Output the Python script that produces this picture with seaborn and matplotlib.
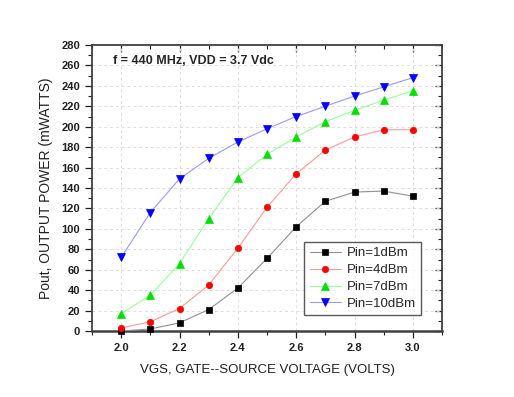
import matplotlib
matplotlib.use("Agg")
import matplotlib.pyplot as plt
import seaborn as sns
import pandas as pd
from matplotlib.ticker import MultipleLocator

vgs = [2.0, 2.1, 2.2, 2.3, 2.4, 2.5, 2.6, 2.7, 2.8, 2.9, 3.0]
pin_1dbm = [0, 2, 8, 21, 42, 71, 102, 127, 136, 137, 132]
pin_4dbm = [3, 9, 22, 45, 81, 121, 154, 177, 190, 197, 197]
pin_7dbm = [17, 35, 66, 110, 150, 173, 190, 205, 216, 226, 235]
pin_10dbm = [72, 116, 149, 169, 185, 198, 210, 220, 230, 239, 248]
series_names = ["Pin=1dBm", "Pin=4dBm", "Pin=7dBm", "Pin=10dBm"]

title_text = "f = 440 MHz, VDD = 3.7 Vdc"
xlabel = "VGS, GATE--SOURCE VOLTAGE (VOLTS)"
ylabel = "Pout, OUTPUT POWER (mWATTS)"

sns.set_style("white")
plt.rcParams['font.family'] = ['Liberation Sans', 'DejaVu Sans']

fig = plt.figure(figsize=(5.14, 3.97), dpi=100)
ax = fig.add_axes([92/514, 1-331/397, 350/514, (331-45)/397])

styles = [
    dict(marker='s', line='#909090', mk='black', ms=4.2),
    dict(marker='o', line='#ff9999', mk='#ff0000', ms=4.6),
    dict(marker='^', line='#99ff99', mk='#00e000', ms=5.2),
    dict(marker='v', line='#9999ff', mk='#0000ff', ms=5.2),
]
data = [pin_1dbm, pin_4dbm, pin_7dbm, pin_10dbm]
for name, vals, st in zip(series_names, data, styles):
    df = pd.DataFrame({"VGS": vgs, "Pout": vals})
    sns.lineplot(data=df, x="VGS", y="Pout", ax=ax, color=st['line'], lw=0.8,
                 marker=st['marker'], markersize=st['ms'], markeredgewidth=0.5,
                 markerfacecolor=st['mk'], markeredgecolor=st['mk'],
                 label=name, clip_on=False, zorder=3)

ax.set_xlim(1.9, 3.1)
ax.set_ylim(0, 280)
ax.xaxis.set_major_locator(MultipleLocator(0.2))
ax.xaxis.set_minor_locator(MultipleLocator(0.1))
ax.yaxis.set_major_locator(MultipleLocator(20))
ax.yaxis.set_minor_locator(MultipleLocator(10))
ax.set_xticks([2.0, 2.2, 2.4, 2.6, 2.8, 3.0])
ax.set_xticklabels(["2.0", "2.2", "2.4", "2.6", "2.8", "3.0"])

ax.grid(True, which='major', ls=(0, (3, 3)), color='#dddddd', lw=0.7)
ax.set_axisbelow(True)

for s in ax.spines.values():
    s.set_color('#404040')
    s.set_linewidth(1.3)
ax.spines['bottom'].set_linewidth(1.8)

ax.tick_params(which='both', direction='out', bottom=True, left=True,
               colors='#202020', labelsize=8)
ax.tick_params(which='major', length=5, width=0.9)
ax.tick_params(which='minor', length=3, width=0.8)
ax2 = ax.secondary_xaxis('top')
ax2.set_xticks([2.0, 2.2, 2.4, 2.6, 2.8, 3.0])
ax2.xaxis.set_minor_locator(MultipleLocator(0.1))
ax2.tick_params(which='both', direction='in', labeltop=False, colors='#202020')
ax2.tick_params(which='major', length=5, width=0.9)
ax2.tick_params(which='minor', length=3, width=0.8)
ax3 = ax.secondary_yaxis('right')
ax3.yaxis.set_major_locator(MultipleLocator(20))
ax3.yaxis.set_minor_locator(MultipleLocator(10))
ax3.tick_params(which='both', direction='in', labelright=False, colors='#202020')
ax3.tick_params(which='major', length=5, width=0.9)
ax3.tick_params(which='minor', length=3, width=0.8)
for a in (ax2, ax3):
    for s in a.spines.values():
        s.set_visible(False)

for lab in ax.get_xticklabels() + ax.get_yticklabels():
    lab.set_fontweight('bold')

ax.set_xlabel(xlabel, fontsize=9.5, color='#202020', labelpad=8)
ax.set_ylabel(ylabel, fontsize=10, color='#202020', labelpad=6)
ax.text(0.06, 0.965, title_text, transform=ax.transAxes, fontsize=9,
        fontweight='bold', va='top', ha='left')

leg = ax.legend(loc='lower right', bbox_to_anchor=(0.94, 0.055), fontsize=9.5,
                frameon=True, fancybox=False, edgecolor='#303030',
                handlelength=2.4, handletextpad=0.4, borderpad=0.4,
                labelspacing=0.35, borderaxespad=0)
leg.get_frame().set_linewidth(1.0)

fig.savefig("out.png", dpi=100)
